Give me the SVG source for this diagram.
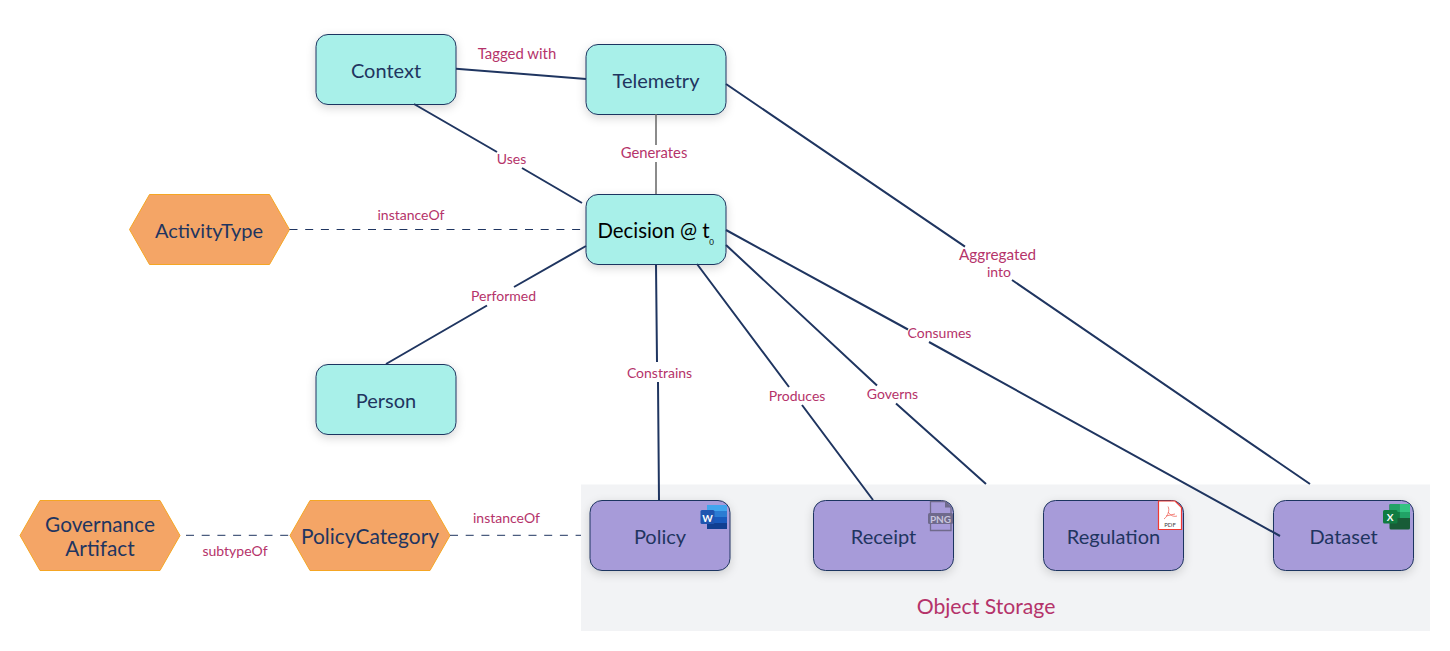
<svg xmlns="http://www.w3.org/2000/svg" width="1450" height="651" viewBox="0 0 1450 651">
<defs>
<style>
text{font-family:"Lato","Open Sans","Liberation Sans",sans-serif;text-anchor:middle}
.n{font-size:20px;fill:#1f3560}
.l{font-size:14px;fill:#b5336a}
.c{fill:none;stroke:#1f3560;stroke-width:2}
.d{fill:none;stroke:#1f3560;stroke-width:1;stroke-dasharray:8 7.7}
.t{fill:#a8f0e9;stroke:#1f3560;stroke-width:1;filter:url(#s)}
.p{fill:#a79bd9;stroke:#1f3560;stroke-width:1;filter:url(#s)}
.h{fill:#f4a566;stroke:#f5a623;stroke-width:1}
</style>
<filter id="s" x="-20%" y="-30%" width="140%" height="170%"><feDropShadow dx="0" dy="3" stdDeviation="5" flood-color="#000" flood-opacity="0.16"/></filter>
</defs>
<rect id="object-storage" x="581" y="484.5" width="849" height="146.5" fill="#f2f3f5"/>
<g id="context"><rect class="t" x="316" y="34.500" width="140" height="70" rx="12"/><text class="n" x="386" y="78">Context</text></g>
<g id="telemetry"><rect class="t" x="586" y="44.500" width="140" height="70" rx="12"/><text class="n" x="656" y="88">Telemetry</text></g>
<g id="decision"><rect class="t" x="586" y="194.500" width="140" height="70" rx="12"/><text x="653.500" y="238" font-size="20.400" fill="#000">Decision @ t</text><text x="711.500" y="245" font-size="8" fill="#000">0</text></g>
<g id="person"><rect class="t" x="316" y="364.500" width="140" height="70" rx="12"/><text class="n" x="386" y="408">Person</text></g>
<g id="activity-type"><path class="h" d="M129.500 229.500L149.500 194.500H269.500L289.500 229.500L269.500 264.500H149.500Z"/><text class="n" x="209" y="238">ActivityType</text></g>
<g id="governance-artifact"><path class="h" d="M20 535.500L40 500.500H160L180 535.500L160 570.500H40Z"/><text class="n" x="100" y="532" style="font-size:20.800px">Governance</text><text class="n" x="100" y="556" style="font-size:20.800px">Artifact</text></g>
<g id="policy-category"><path class="h" d="M290 535.500L310 500.500H430L450 535.500L430 570.500H310Z"/><text class="n" x="370" y="544" style="font-size:20.900px">PolicyCategory</text></g>
<g id="policy"><rect class="p" x="590" y="500.500" width="140" height="70" rx="12"/><text class="n" x="660" y="544">Policy</text>
<rect x="707" y="505" width="20" height="24" rx="1.500" fill="#185abd"/><rect x="707" y="505" width="20" height="6" fill="#41a5ee"/><rect x="707" y="511" width="20" height="6" fill="#2b7cd3"/><rect x="707" y="523" width="20" height="6" fill="#103f91"/><rect x="700.500" y="510" width="14" height="14" rx="1.500" fill="#1f55b0"/><text x="707.500" y="521.500" font-size="10" font-weight="700" fill="#fff">W</text></g>
<g id="receipt"><rect class="p" x="813.500" y="500.500" width="140" height="70" rx="12"/><text class="n" x="883.500" y="544">Receipt</text>
<path d="M930.500 501.500H945L951 507.500V530.500H930.500Z" fill="#a79bd9" stroke="#6f6a8c" stroke-width="1.300"/><path d="M945 501.500L951 507.500H945Z" fill="#6f6a8c"/><rect x="928" y="513" width="25" height="11" rx="1.500" fill="#6f6a8c"/><text x="940.500" y="522.500" font-size="10" font-weight="700" fill="#c9c5dd">PNG</text></g>
<g id="regulation"><rect class="p" x="1043.500" y="500.500" width="140" height="70" rx="12"/><text class="n" x="1113.500" y="544">Regulation</text>
<path d="M1158.500 501H1175L1181.500 507.500V529.500H1158.500Z" fill="#fff" stroke="#f03a32" stroke-width="1.200"/><path d="M1168 506.500C1170 510 1168 516 1164 519M1168 512C1171 516 1174 517 1177 516M1166 516L1175 514" fill="none" stroke="#f0645c" stroke-width="0.800"/><text x="1170" y="526.500" font-size="6" fill="#444">PDF</text></g>
<g id="dataset"><rect class="p" x="1273.500" y="500.500" width="140" height="70" rx="12"/><text class="n" x="1343.500" y="544">Dataset</text>
<rect x="1389.500" y="504" width="20.500" height="25.500" rx="1.500" fill="#185c37"/><rect x="1389.500" y="504" width="10" height="8" fill="#21a366"/><rect x="1399.500" y="504" width="10.500" height="8" fill="#33c481"/><rect x="1399.500" y="512" width="10.500" height="6" fill="#21a366"/><rect x="1389.500" y="512" width="10" height="6" fill="#107c41"/><rect x="1383" y="510" width="14.500" height="13.500" rx="1.500" fill="#107c41"/><text x="1390" y="521" font-size="10" font-weight="700" fill="#fff">X</text></g>
<g id="connectors">
<path class="c" d="M456 68.7L586 79"/>
<path class="c" d="M414 104L497 152M522 168L582 203"/>
<path d="M656 114V145M656 162V194" fill="none" stroke="#666" stroke-width="1.5"/>
<path class="d" d="M289.500 229.500H582"/>
<path class="c" d="M586 246L514 287M487 305.500L386 364"/>
<path class="c" d="M656 264L657 362M658 382L659 500"/>
<path class="c" d="M697 264L789 387M802 405L873 500"/>
<path class="c" d="M726 245L877 385.500M896 403.500L986 484"/>
<path class="c" d="M726 230L908 329.500M929 342L1280 536"/>
<path class="c" d="M726 84L965 246.700M1012 280L1310 484"/>
<path class="d" d="M450 535.300H581"/>
<path class="d" d="M186 535.300H290"/>
</g>
<g id="labels">
<text class="l" x="517" y="59" style="font-size:14.900px">Tagged with</text>
<text class="l" x="511.500" y="164">Uses</text>
<text class="l" x="654" y="158" style="font-size:14.800px">Generates</text>
<text class="l" x="411" y="220">instanceOf</text>
<text class="l" x="503.500" y="301">Performed</text>
<text class="l" x="659.500" y="378">Constrains</text>
<text class="l" x="797" y="401">Produces</text>
<text class="l" x="892.500" y="399">Governs</text>
<text class="l" x="939.500" y="338">Consumes</text>
<text class="l" x="997.500" y="260" style="font-size:15.300px">Aggregated</text>
<text class="l" x="999" y="277">into</text>
<text class="l" x="506.500" y="523">instanceOf</text>
<text class="l" x="235" y="556">subtypeOf</text>
<text x="986" y="614" font-size="21.200" fill="#b5336a">Object Storage</text>
</g>
</svg>
